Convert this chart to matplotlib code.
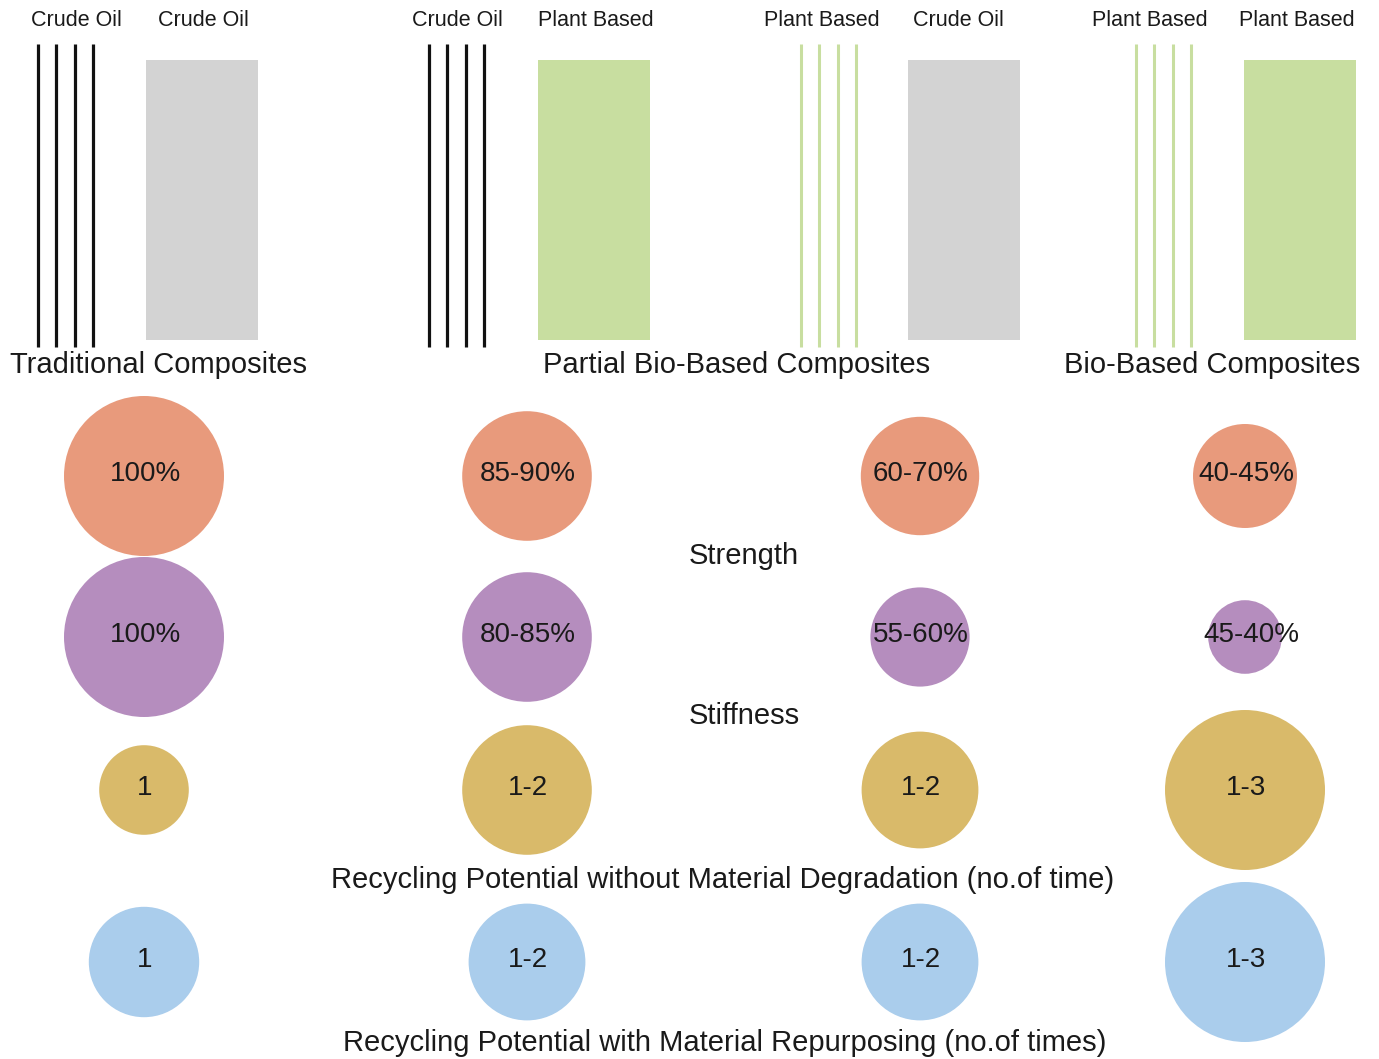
import matplotlib
matplotlib.use("Agg")
import matplotlib.pyplot as plt
from matplotlib.patches import Circle, Rectangle

plt.rcParams['font.family'] = ['Liberation Sans', 'DejaVu Sans']

# ---- data -------------------------------------------------------------
composite_types = ["Traditional Composites", "Partial Bio-Based Composites",
                   "Bio-Based Composites"]
fibre_source = ["Crude Oil", "Crude Oil", "Plant Based", "Plant Based"]
matrix_source = ["Crude Oil", "Plant Based", "Crude Oil", "Plant Based"]

metrics = ["Strength", "Stiffness",
           "Recycling Potential without Material Degradation (no.of time)",
           "Recycling Potential with Material Repurposing (no.of times)"]

strength_labels = ["100%", "85-90%", "60-70%", "40-45%"]
stiffness_labels = ["100%", "80-85%", "55-60%", "45-40%"]
recycling_labels = ["1", "1-2", "1-2", "1-3"]
repurposing_labels = ["1", "1-2", "1-2", "1-3"]

# relative bubble sizes (largest bubble = 1)
strength_size = [1.00, 0.81, 0.74, 0.65]
stiffness_size = [1.00, 0.81, 0.62, 0.46]
recycling_size = [0.56, 0.81, 0.73, 1.00]
repurposing_size = [0.69, 0.73, 0.73, 1.00]

# ---- layout & style ---------------------------------------------------
W, H = 1379, 1059
fig = plt.figure(figsize=(W / 100, H / 100), dpi=100)
ax = fig.add_axes([0, 0, 1, 1])
ax.set_xlim(0, W)
ax.set_ylim(H, 0)
ax.axis("off")

TXT = "#1a1a1a"
GRAY = "#d3d3d3"
GREEN = "#c8dea0"
colour_of = {"Crude Oil": GRAY, "Plant Based": GREEN}
fibre_colour = {"Crude Oil": "#111111", "Plant Based": GREEN}

fibre_x0 = [38, 429, 801, 1136]
fibre_gap = 18.3
matrix_x0 = [146, 538, 908, 1244]
matrix_w = 112
fibre_label_x = [76, 457, 822, 1150]
matrix_label_x = [203, 596, 958, 1297]

for i in range(4):
    # fibres
    for k in range(4):
        x = fibre_x0[i] + k * fibre_gap
        ax.plot([x, x], [44, 347], color=fibre_colour[fibre_source[i]],
                lw=2.3 if fibre_source[i] == "Crude Oil" else 2.2,
                solid_capstyle="butt")
    ax.text(fibre_label_x[i], 21, fibre_source[i],
            ha="center", va="center", fontsize=15.5, color=TXT)
    # matrix
    ax.add_patch(Rectangle((matrix_x0[i], 60), matrix_w, 280,
                           facecolor=colour_of[matrix_source[i]],
                           edgecolor="none"))
    ax.text(matrix_label_x[i], 21, matrix_source[i],
            ha="center", va="center", fontsize=15.5, color=TXT)

title_x = [158, 737, 1212]
for t, x in zip(composite_types, title_x):
    ax.text(x, 365, t, ha="center", va="center", fontsize=21, color=TXT)

# ---- bubbles ----------------------------------------------------------
col_x = [144, 527, 920, 1245]
row_y = [476, 637, 790, 962]
max_r = 80
rows = [
    (strength_size, strength_labels, "#e89a7c"),
    (stiffness_size, stiffness_labels, "#b58dbe"),
    (recycling_size, recycling_labels, "#d9ba6a"),
    (repurposing_size, repurposing_labels, "#aacdec"),
]
for (sizes, labels, col), y in zip(rows, row_y):
    for x, s, lab in zip(col_x, sizes, labels):
        ax.add_patch(Circle((x, y), s * max_r, facecolor=col, edgecolor="none"))
        dx = 6 if lab == "45-40%" else 1
        ax.text(x + dx, y - 2, lab, ha="center", va="center",
                fontsize=20, color=TXT)

metric_y = [556, 716, 880, 1043]
metric_x = [744, 744, 723, 725]
for m, x, y in zip(metrics, metric_x, metric_y):
    ax.text(x, y, m, ha="center", va="center", fontsize=21, color=TXT)

fig.savefig("out.png", dpi=100, facecolor="white")
